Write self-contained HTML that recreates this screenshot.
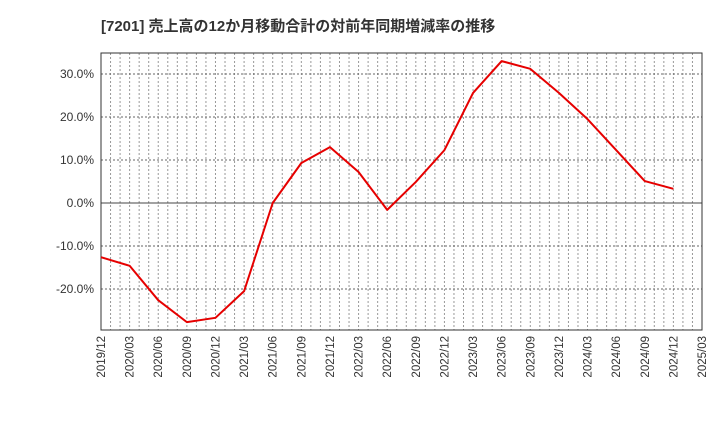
<!DOCTYPE html>
<html><head><meta charset="utf-8"><style>
body{margin:0;background:#fff;}
svg{display:block;font-family:"Liberation Sans","Noto Sans CJK JP",sans-serif;}
</style></head><body>
<svg id="c" width="720" height="440">
<text x="101" y="31" font-size="15" font-weight="bold" fill="#333">[7201]  売上高の12か月移動合計の対前年同期増減率の推移</text>
</svg>
<script>
const categories=["2019/12","2020/03","2020/06","2020/09","2020/12","2021/03","2021/06","2021/09","2021/12","2022/03","2022/06","2022/09","2022/12","2023/03","2023/06","2023/09","2023/12","2024/03","2024/06","2024/09","2024/12"];
const values=[-12.6,-14.6,-22.6,-27.7,-26.7,-20.5,0.0,9.3,13.0,7.2,-1.6,4.9,12.3,25.6,33.0,31.2,25.6,19.5,12.3,5.1,3.3];
const xTickLabels=["2019/12","2020/03","2020/06","2020/09","2020/12","2021/03","2021/06","2021/09","2021/12","2022/03","2022/06","2022/09","2022/12","2023/03","2023/06","2023/09","2023/12","2024/03","2024/06","2024/09","2024/12","2025/03"];
const yTicks=[-20,-10,0,10,20,30];
const L=101,R=702,T=53,B=330;
const nQ=xTickLabels.length-1;
const x=i=>L+(R-L)*i/nQ;
const y=v=>203-v*4.3;
const svg=document.getElementById('c');
const NS='http://www.w3.org/2000/svg';
function mk(t,a){const e=document.createElementNS(NS,t);for(const k in a)e.setAttribute(k,a[k]);svg.appendChild(e);return e;}
// monthly vertical grid
for(let m=1;m<nQ*3;m++){const xx=L+(R-L)*m/(nQ*3);
const g=mk('line',{x1:xx,x2:xx,y1:T,y2:B,stroke:'#999','stroke-width':1,'stroke-dasharray':'2,2'});

}
yTicks.forEach(v=>{const yy=y(v);
const g=mk('line',{x1:L,x2:R,y1:yy,y2:yy,stroke:v===0?'#444':'#666','stroke-width':1,'stroke-dasharray':v===0?'':'2,2'});


const t=mk('text',{x:L-7,y:yy+4,'text-anchor':'end','font-size':12,fill:'#333'});
t.textContent=v.toFixed(1)+'%';

});
const fr=mk('rect',{x:L,y:T,width:R-L,height:B-T,fill:'none',stroke:'#333','stroke-width':1});


xTickLabels.forEach((s,i)=>{const xx=x(i);
const t=mk('text',{x:0,y:0,'text-anchor':'end','font-size':11.5,fill:'#333',transform:`translate(${xx+4},${B+6}) rotate(-90)`});
t.textContent=s;

});
const p=mk('polyline',{points:values.map((v,i)=>x(i)+','+y(v)).join(' '),fill:'none',stroke:'#e60000','stroke-width':2,'stroke-linejoin':'round'});


</script>
</body></html>
